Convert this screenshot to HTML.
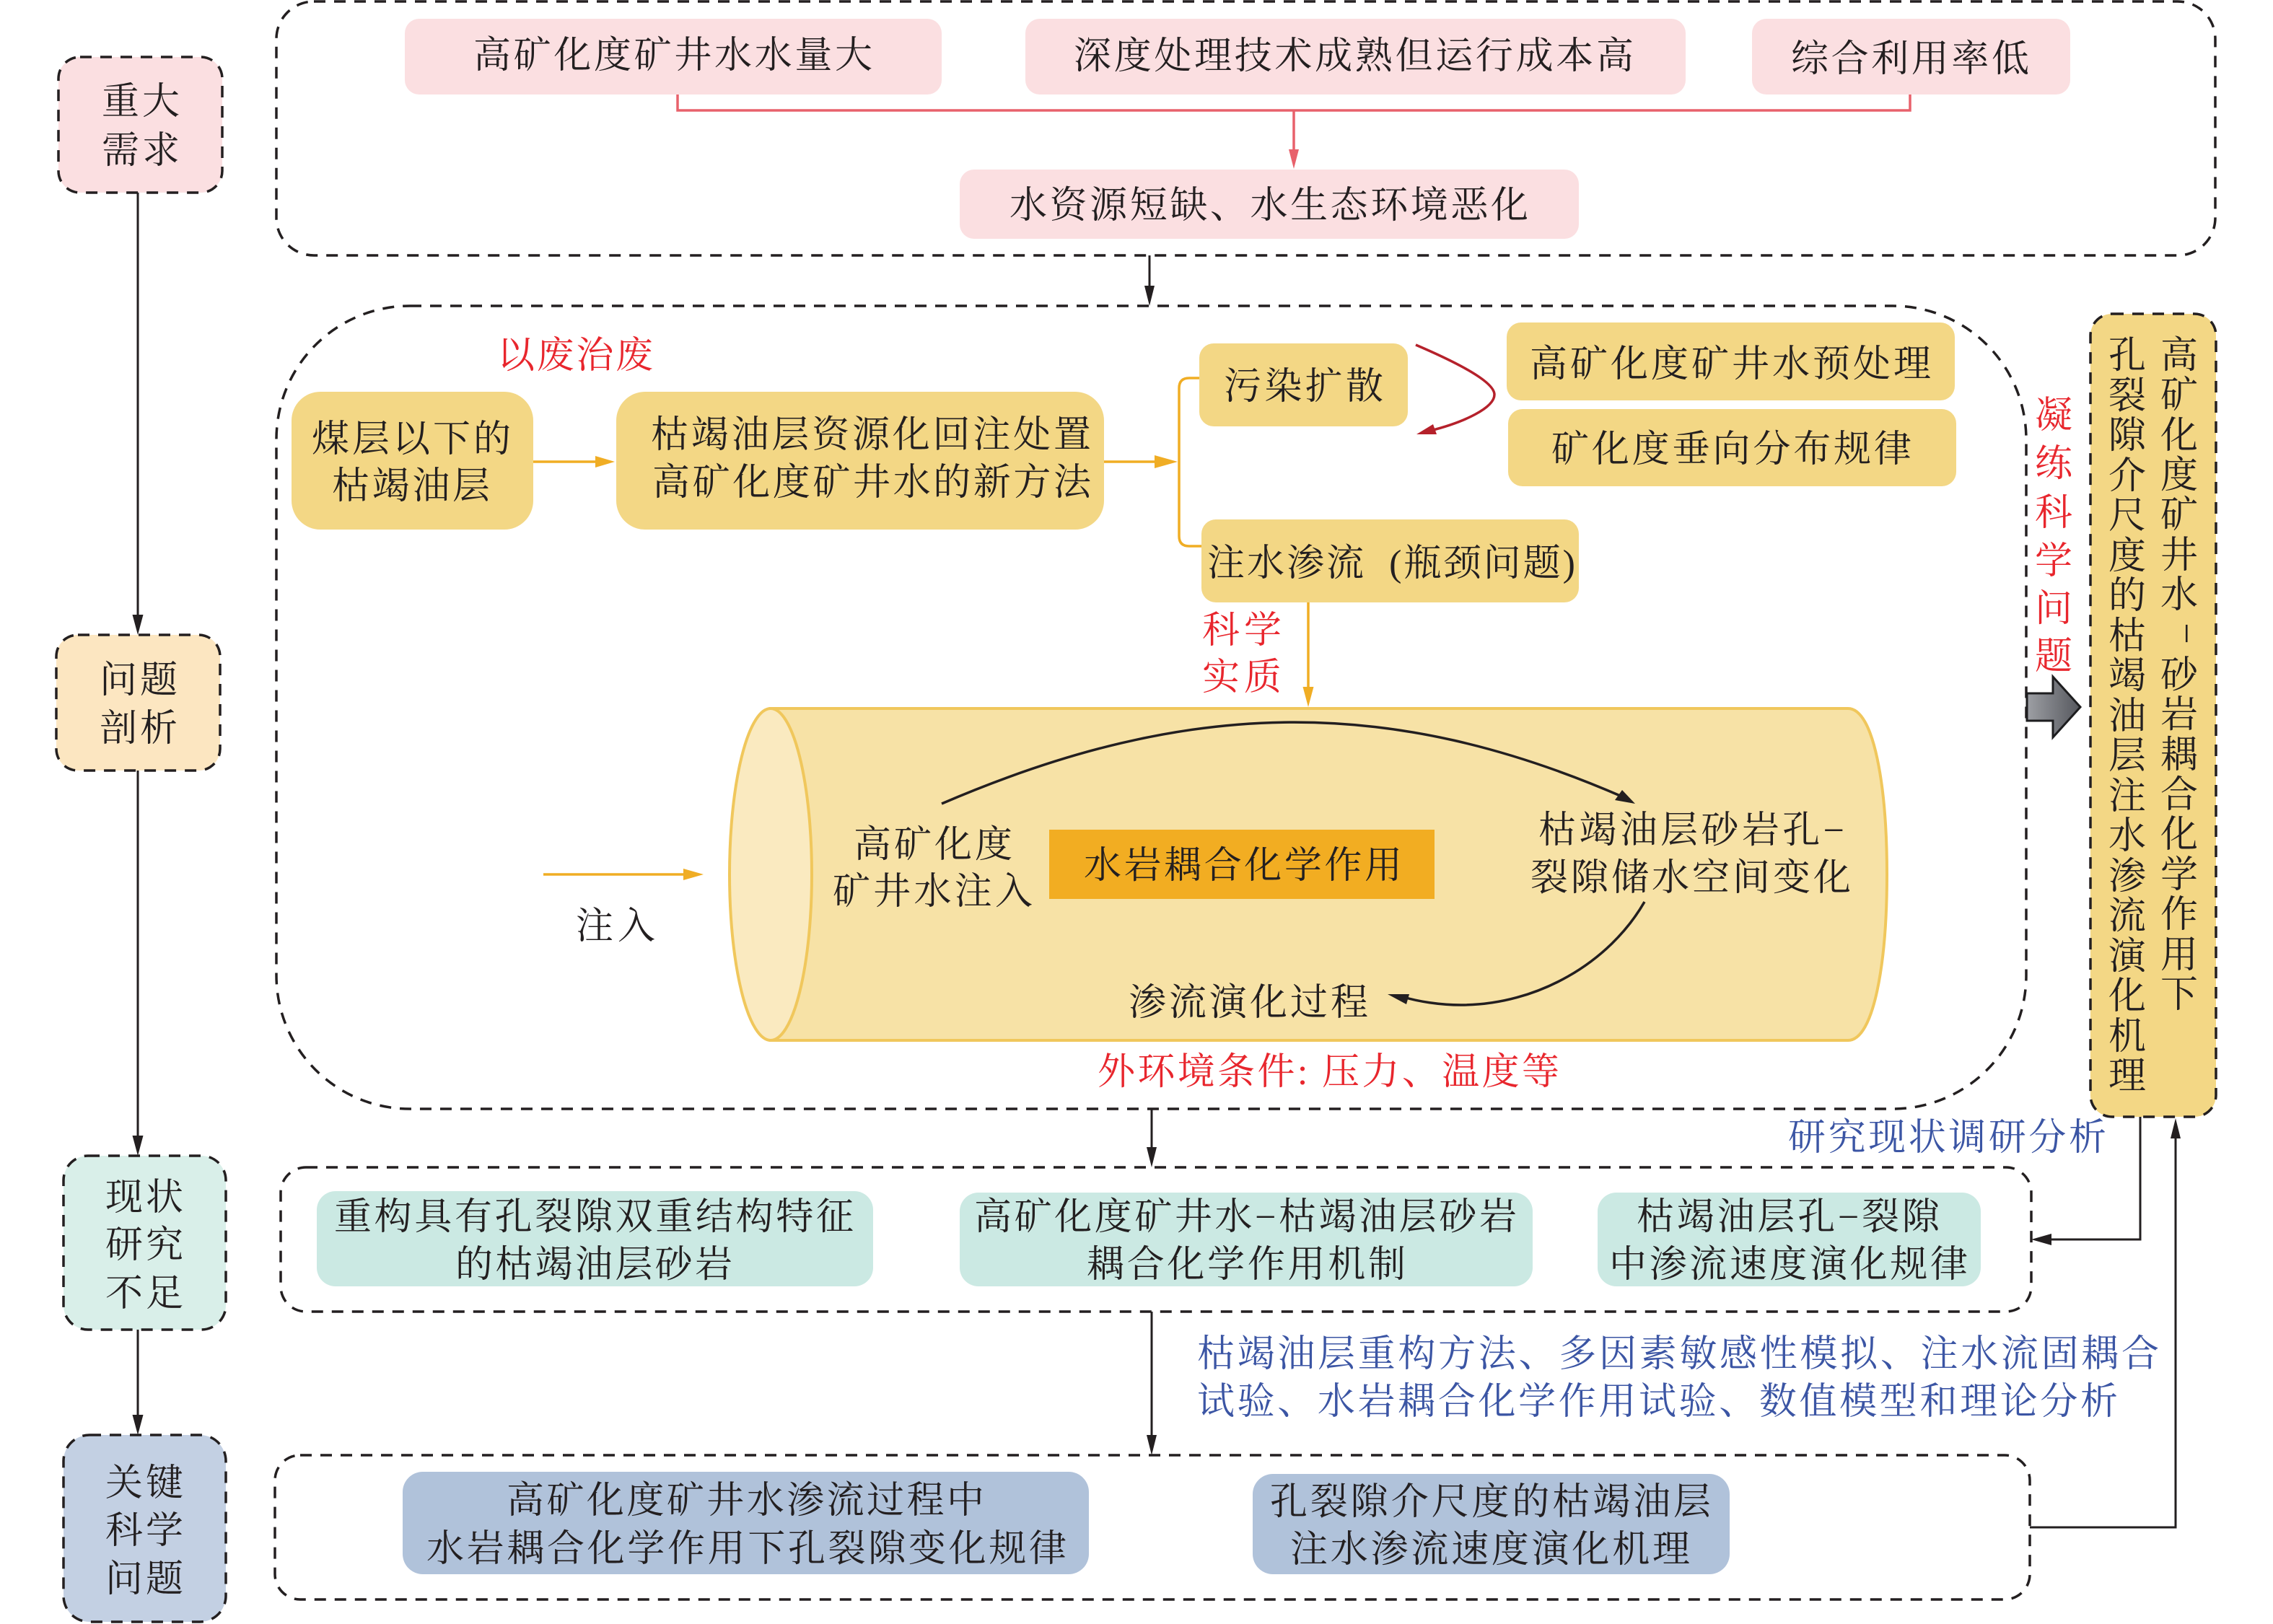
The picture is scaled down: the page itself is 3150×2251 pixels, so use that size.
<!DOCTYPE html>
<html><head><meta charset="utf-8">
<style>
html,body{margin:0;padding:0;background:#fff}
svg{display:block}
text{font-family:"Liberation Serif","Noto Serif CJK SC",serif;font-size:52px;fill:#231f20}
.c{text-anchor:middle}
.r{fill:#e8262d}
.b{fill:#3b55a4}
.d{fill:none;stroke:#231f20;stroke-width:3.5;stroke-dasharray:16 12}
.l{fill:none;stroke:#231f20;stroke-width:3}
.o{fill:none;stroke:#f0ad24;stroke-width:3.5}
.y{fill:#f3d785}
</style></head><body>
<svg xmlns="http://www.w3.org/2000/svg" width="3150" height="2251" viewBox="0 0 3150 2251">
<defs><linearGradient id="g" x1="0" x2="1" y1="0" y2="0"><stop offset="0" stop-color="#9d9fa4"/><stop offset="1" stop-color="#55575d"/></linearGradient></defs>

<!-- left column -->
<rect x="81" y="79" width="227" height="188" rx="30" class="d" style="fill:#fbdfe1"/>
<rect x="78" y="880" width="227" height="188" rx="30" style="fill:#fce6c1" class="d"/>
<rect x="88" y="1602" width="225" height="241" rx="34" style="fill:#d9efe9" class="d"/>
<rect x="88" y="1989" width="225" height="259" rx="36" style="fill:#c3d0e3" class="d"/>
<path class="l" d="M191 267V855M191 1068V1577M191 1843V1964"/>
<path d="M183.500 852H198.500L191 880ZM183.500 1574H198.500L191 1602ZM183.500 1961H198.500L191 1989Z" fill="#231f20"/>
<text x="141" y="158" textLength="108">重大</text>
<text x="141" y="226" textLength="108">需求</text>
<text x="138" y="960" textLength="108">问题</text>
<text x="138" y="1027" textLength="108">剖析</text>
<text x="146" y="1677" textLength="108">现状</text>
<text x="146" y="1743" textLength="108">研究</text>
<text x="146" y="1810" textLength="108">不足</text>
<text x="146" y="2073" textLength="108">关键</text>
<text x="146" y="2139" textLength="108">科学</text>
<text x="146" y="2206" textLength="108">问题</text>

<!-- top dashed group -->
<rect x="383" y="2" width="2687" height="352" rx="52" class="d"/>
<rect x="561" y="26" width="744" height="105" rx="20" fill="#fbdfe1"/>
<rect x="1421" y="26" width="915" height="105" rx="20" fill="#fbdfe1"/>
<rect x="2428" y="26" width="441" height="105" rx="20" fill="#fbdfe1"/>
<rect x="1330" y="235" width="858" height="96" rx="20" fill="#fbdfe1"/>
<path d="M939 131V153H2647V131M1793 153V210" fill="none" stroke="#e8616b" stroke-width="3.500"/>
<path d="M1786 207H1800L1793 234Z" fill="#e8616b"/>
<text x="656" y="94" textLength="553">高矿化度矿井水水量大</text>
<text x="1488" y="95" textLength="776">深度处理技术成熟但运行成本高</text>
<text x="2482" y="99" textLength="330">综合利用率低</text>
<text x="1399" y="302" textLength="719">水资源短缺、水生态环境恶化</text>
<path class="l" d="M1593 354V400"/><path d="M1586 396H1600L1593 424Z" fill="#231f20"/>

<!-- middle dashed group -->
<rect x="383" y="424" width="2425" height="1113" rx="185" class="d"/>
<text x="689" y="510" textLength="216" class="r">以废治废</text>
<rect x="404" y="543" width="335" height="191" rx="40" class="y"/>
<rect x="854" y="543" width="676" height="191" rx="40" class="y"/>
<text x="432" y="626" textLength="276">煤层以下的</text>
<text x="460" y="691" textLength="219">枯竭油层</text>
<text x="902" y="620" textLength="610">枯竭油层资源化回注处置</text>
<text x="904" y="686" textLength="608">高矿化度矿井水的新方法</text>
<path class="o" d="M739 640H830"/><path d="M825 632L852 640L825 648Z" fill="#f0ad24"/>
<path class="o" d="M1530 640H1605"/><path d="M1600 631L1632 640L1600 649Z" fill="#f0ad24"/>
<path class="o" d="M1662 524H1648Q1634 524 1634 538V743Q1634 757 1648 757H1665"/>
<rect x="1662" y="476" width="289" height="115" rx="20" class="y"/>
<rect x="2088" y="447" width="621" height="108" rx="20" class="y"/>
<rect x="2090" y="567" width="621" height="107" rx="20" class="y"/>
<rect x="1665" y="720" width="523" height="115" rx="20" class="y"/>
<text x="1696" y="553" textLength="221">污染扩散</text>
<text x="2120" y="522" textLength="556">高矿化度矿井水预处理</text>
<text x="2150" y="640" textLength="499">矿化度垂向分布规律</text>
<text x="1673" y="798" textLength="510" xml:space="preserve">注水渗流  (瓶颈问题)</text>
<path d="M1962 478C2025 505 2071 530 2071 547C2071 565 2030 585 1982 597" fill="none" stroke="#b5212b" stroke-width="3.500"/>
<path d="M1963 602L1986 588L1991 602Z" fill="#b5212b"/>
<path class="o" d="M1813 835V955"/><path d="M1805.500 952H1820.500L1813 980Z" fill="#f0ad24"/>
<text x="1666" y="891" textLength="110" class="r">科学</text>
<text x="1666" y="956" textLength="110" class="r">实质</text>

<!-- cylinder -->
<path d="M1068 982H2561C2597 982 2615 1090 2615 1212C2615 1334 2597 1442 2561 1442H1068Z" fill="#f7e2a6" stroke="#f0c75c" stroke-width="4"/>
<ellipse cx="1068" cy="1212" rx="57" ry="230" fill="#faeac0" stroke="#f0c75c" stroke-width="4"/>
<rect x="1454" y="1150" width="534" height="96" fill="#f2ad22"/>
<text x="1502" y="1217" textLength="441">水岩耦合化学作用</text>
<text x="1183" y="1188" textLength="220">高矿化度</text>
<text x="1154" y="1253" textLength="277">矿井水注入</text>
<text x="2132" y="1168" textLength="424">枯竭油层砂岩孔−</text>
<text x="2121" y="1234" textLength="444">裂隙储水空间变化</text>
<text x="1564" y="1407" textLength="332">渗流演化过程</text>
<text x="798" y="1301" textLength="110">注入</text>
<path class="o" d="M753 1212H950"/><path d="M947 1204L975 1212L947 1220Z" fill="#f0ad24"/>
<path d="M1305 1114C1651 965 1929 965 2250 1105" fill="none" stroke="#231f20" stroke-width="3.500"/>
<path d="M2266 1114L2238 1109L2248 1095Z" fill="#231f20"/>
<path d="M2279 1250C2230 1335 2130 1393 2025 1393C1995 1393 1965 1388 1945 1382" fill="none" stroke="#231f20" stroke-width="3.500"/>
<path d="M1923 1378H1953L1949 1392Z" fill="#231f20"/>
<text x="1521" y="1503" textLength="640" class="r">外环境条件: 压力、温度等</text>

<!-- red vertical label -->
<text class="c r" x="2846 2846 2846 2846 2846 2846" y="593 660 728 795 861 927">凝练科学问题</text>
<path d="M2809 961H2845V938L2883 980L2845 1022V999H2809Z" fill="url(#g)" stroke="#1d1d1f" stroke-width="3"/>

<!-- right box -->
<rect x="2897" y="435" width="174" height="1113" rx="30" style="fill:#f3d785" class="d"/>
<text class="c" x="3020 3020 3020 3020 3020 3020 3020" y="510 565 621 676 731 787 842">高矿化度矿井水</text>
<text transform="translate(3020 878) rotate(90)" class="c" y="7">−</text>
<text class="c" x="3020 3020 3020 3020 3020 3020 3020 3020 3020" y="953 1008 1064 1119 1174 1230 1285 1341 1396">砂岩耦合化学作用下</text>
<text class="c" x="2948 2948 2948 2948 2948 2948 2948 2948 2948 2948 2948 2948 2948 2948 2948 2948 2948 2948 2948" y="510 566 621 677 732 788 843 899 954 1010 1065 1121 1176 1232 1287 1343 1398 1454 1509">孔裂隙介尺度的枯竭油层注水渗流演化机理</text>

<!-- status group -->
<path class="l" d="M1596 1537V1595"/><path d="M1589 1590H1603L1596 1618Z" fill="#231f20"/>
<rect x="389" y="1618" width="2426" height="200" rx="35" class="d"/>
<rect x="439" y="1651" width="771" height="132" rx="26" fill="#cbe9e3"/>
<rect x="1330" y="1653" width="794" height="130" rx="26" fill="#cbe9e3"/>
<rect x="2214" y="1653" width="531" height="130" rx="26" fill="#cbe9e3"/>
<text x="463" y="1704" textLength="720">重构具有孔裂隙双重结构特征</text>
<text x="631" y="1770" textLength="384">的枯竭油层砂岩</text>
<text x="1350" y="1704" textLength="752">高矿化度矿井水−枯竭油层砂岩</text>
<text x="1506" y="1770" textLength="442">耦合化学作用机制</text>
<text x="2268" y="1704" textLength="420">枯竭油层孔−裂隙</text>
<text x="2230" y="1770" textLength="497">中渗流速度演化规律</text>
<text x="2478" y="1594" textLength="441" class="b">研究现状调研分析</text>
<path class="l" d="M2966 1548V1718H2840"/><path d="M2815 1718L2843 1710V1726Z" fill="#231f20"/>
<path class="l" d="M1596 1818V1992"/><path d="M1589 1989H1603L1596 2017Z" fill="#231f20"/>
<text x="1659" y="1894" textLength="1333" class="b">枯竭油层重构方法、多因素敏感性模拟、注水流固耦合</text>
<text x="1659" y="1960" textLength="1276" class="b">试验、水岩耦合化学作用试验、数值模型和理论分析</text>

<!-- key group -->
<rect x="381" y="2017" width="2432" height="200" rx="35" class="d"/>
<rect x="558" y="2040" width="951" height="142" rx="28" fill="#b0c2da"/>
<rect x="1736" y="2043" width="661" height="139" rx="28" fill="#b0c2da"/>
<text x="702" y="2097" textLength="662">高矿化度矿井水渗流过程中</text>
<text x="591" y="2164" textLength="887">水岩耦合化学作用下孔裂隙变化规律</text>
<text x="1760" y="2099" textLength="611">孔裂隙介尺度的枯竭油层</text>
<text x="1788" y="2165" textLength="554">注水渗流速度演化机理</text>
<path class="l" d="M2813 2117H3015V1575"/><path d="M3008 1578H3022L3015 1550Z" fill="#231f20"/>
</svg>
</body></html>
